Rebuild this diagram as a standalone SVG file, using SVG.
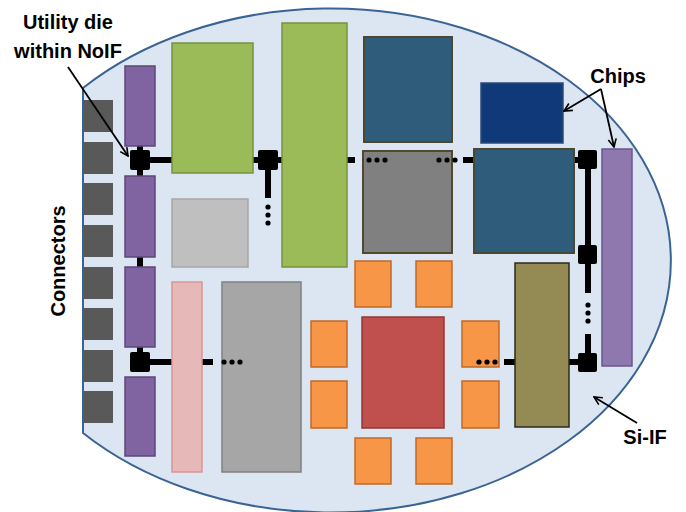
<svg xmlns="http://www.w3.org/2000/svg" width="686" height="512" viewBox="0 0 686 512">
<defs>
<marker id="ah" viewBox="0 0 10 10" refX="9" refY="5" markerWidth="10" markerHeight="10" markerUnits="userSpaceOnUse" orient="auto">
<path d="M1,1 L9,5 L1,9" fill="none" stroke="#000" stroke-width="1.6"/>
</marker>
<style>
.lbl{font-family:"Liberation Sans",Arial,sans-serif;font-weight:bold;font-size:20px;fill:#000}
.conn{fill:#595959}
.pur{fill:#8064a2;stroke:#5c4776;stroke-width:1.5}
.grn{fill:#9bbb59;stroke:#76923c;stroke-width:1.5}
.teal{fill:#2e5c7a;stroke:#4a4733;stroke-width:2}
.org{fill:#f79646;stroke:#c0692b;stroke-width:1.5}
.rt{fill:#000}
.bar{stroke:#000;stroke-width:6;fill:none}
.dot{fill:#000}
.arr{stroke:#000;stroke-width:1.8;fill:none;marker-end:url(#ah)}
</style>
</defs>
<rect width="686" height="512" fill="#fff"/>
<g id="si-if">
<path d="M83,88 A340,252 0 1 1 83,433 Z" fill="#dce6f2" stroke="#3a6493" stroke-width="2"/>
</g>
<g id="connectors">
<rect class="conn" x="83" y="100" width="30" height="32"/>
<rect class="conn" x="83" y="142" width="30" height="32"/>
<rect class="conn" x="83" y="183" width="30" height="32"/>
<rect class="conn" x="83" y="225" width="30" height="32"/>
<rect class="conn" x="83" y="267" width="30" height="32"/>
<rect class="conn" x="83" y="308" width="30" height="32"/>
<rect class="conn" x="83" y="350" width="30" height="32"/>
<rect class="conn" x="83" y="391" width="30" height="32"/>
</g>
<g id="links">
<path class="bar" d="M140,160 H172 M140,146 V176 M140,257 V267 M140,347 V362 H172 M202,362 H213 M253,160 H282 M268,160 V198 M347,160 H355 M463,160 H474 M574,160 H588 V293 M588,334 V362 H569 M504,362 H515"/>
</g>
<g id="chips">
<rect class="pur" x="125" y="66" width="30" height="80"/>
<rect class="pur" x="125" y="176" width="30" height="81"/>
<rect class="pur" x="125" y="267" width="30" height="80"/>
<rect class="pur" x="125" y="377" width="30" height="79"/>
<rect class="grn" x="172" y="43" width="81" height="130"/>
<rect class="grn" x="282" y="23" width="65" height="244"/>
<rect x="172" y="199" width="76" height="68" fill="#bfbfbf" stroke="#a6a6a6" stroke-width="1.5"/>
<rect class="teal" x="364" y="37" width="88" height="105"/>
<rect x="481" y="83" width="82" height="60" fill="#10397a" stroke="#2b4a78" stroke-width="1.5"/>
<rect x="363" y="151" width="89" height="102" fill="#808080" stroke="#4f4a2f" stroke-width="2"/>
<rect class="teal" x="474" y="149" width="100" height="104"/>
<rect x="602" y="149" width="30" height="217" fill="#8f78ae" stroke="#6a5690" stroke-width="1.5"/>
<rect x="172" y="282" width="30" height="190" fill="#e6b9b8" stroke="#d99694" stroke-width="1.5"/>
<rect x="222" y="282" width="79" height="190" fill="#a6a6a6" stroke="#808080" stroke-width="1.5"/>
<rect x="515" y="263" width="54" height="164" fill="#948a54" stroke="#2b2a1c" stroke-width="1.5"/>
<rect x="362" y="317" width="82" height="111" fill="#c0504d" stroke="#943634" stroke-width="1.5"/>
<rect class="org" x="355" y="261" width="36" height="46"/>
<rect class="org" x="416" y="261" width="36" height="46"/>
<rect class="org" x="311" y="321" width="36" height="46"/>
<rect class="org" x="311" y="381" width="36" height="47"/>
<rect class="org" x="462" y="321" width="37" height="46"/>
<rect class="org" x="462" y="381" width="37" height="47"/>
<rect class="org" x="355" y="438" width="36" height="46"/>
<rect class="org" x="416" y="438" width="36" height="46"/>
</g>
<g id="routers">
<rect class="rt" x="130" y="150" width="20" height="20" rx="2"/>
<rect class="rt" x="258" y="150" width="20" height="20" rx="2"/>
<rect class="rt" x="130" y="352" width="20" height="20" rx="2"/>
<rect class="rt" x="578" y="150" width="19" height="19" rx="2"/>
<rect class="rt" x="578" y="245" width="19" height="19" rx="2"/>
<rect class="rt" x="578" y="353" width="19" height="19" rx="2"/>
</g>
<g id="dots">
<circle class="dot" cx="268" cy="207" r="2.6"/><circle class="dot" cx="268" cy="215" r="2.6"/><circle class="dot" cx="268" cy="223" r="2.6"/>
<circle class="dot" cx="369" cy="160" r="2.6"/><circle class="dot" cx="377" cy="160" r="2.6"/><circle class="dot" cx="385" cy="160" r="2.6"/>
<circle class="dot" cx="439" cy="160" r="2.6"/><circle class="dot" cx="447" cy="160" r="2.6"/><circle class="dot" cx="455" cy="160" r="2.6"/>
<circle class="dot" cx="224" cy="362" r="2.6"/><circle class="dot" cx="232" cy="362" r="2.6"/><circle class="dot" cx="240" cy="362" r="2.6"/>
<circle class="dot" cx="479" cy="362" r="2.6"/><circle class="dot" cx="487" cy="362" r="2.6"/><circle class="dot" cx="495" cy="362" r="2.6"/>
<circle class="dot" cx="588" cy="305" r="2.6"/><circle class="dot" cx="588" cy="313" r="2.6"/><circle class="dot" cx="588" cy="321" r="2.6"/>
</g>
<g id="labels">
<text class="lbl" x="68" y="29" text-anchor="middle">Utility die</text>
<text class="lbl" x="68" y="58" text-anchor="middle">within NoIF</text>
<text class="lbl" x="618" y="83" text-anchor="middle">Chips</text>
<text class="lbl" x="645" y="444" text-anchor="middle">Si-IF</text>
<text class="lbl" x="65" y="261" text-anchor="middle" transform="rotate(-90 65 261)">Connectors</text>
</g>
<g id="arrows">
<path class="arr" d="M68,67 L128,156"/>
<path class="arr" d="M601,89 L564,111"/>
<path class="arr" d="M601,89 L614,147"/>
<path class="arr" d="M637,423 L594,397"/>
</g>
</svg>
